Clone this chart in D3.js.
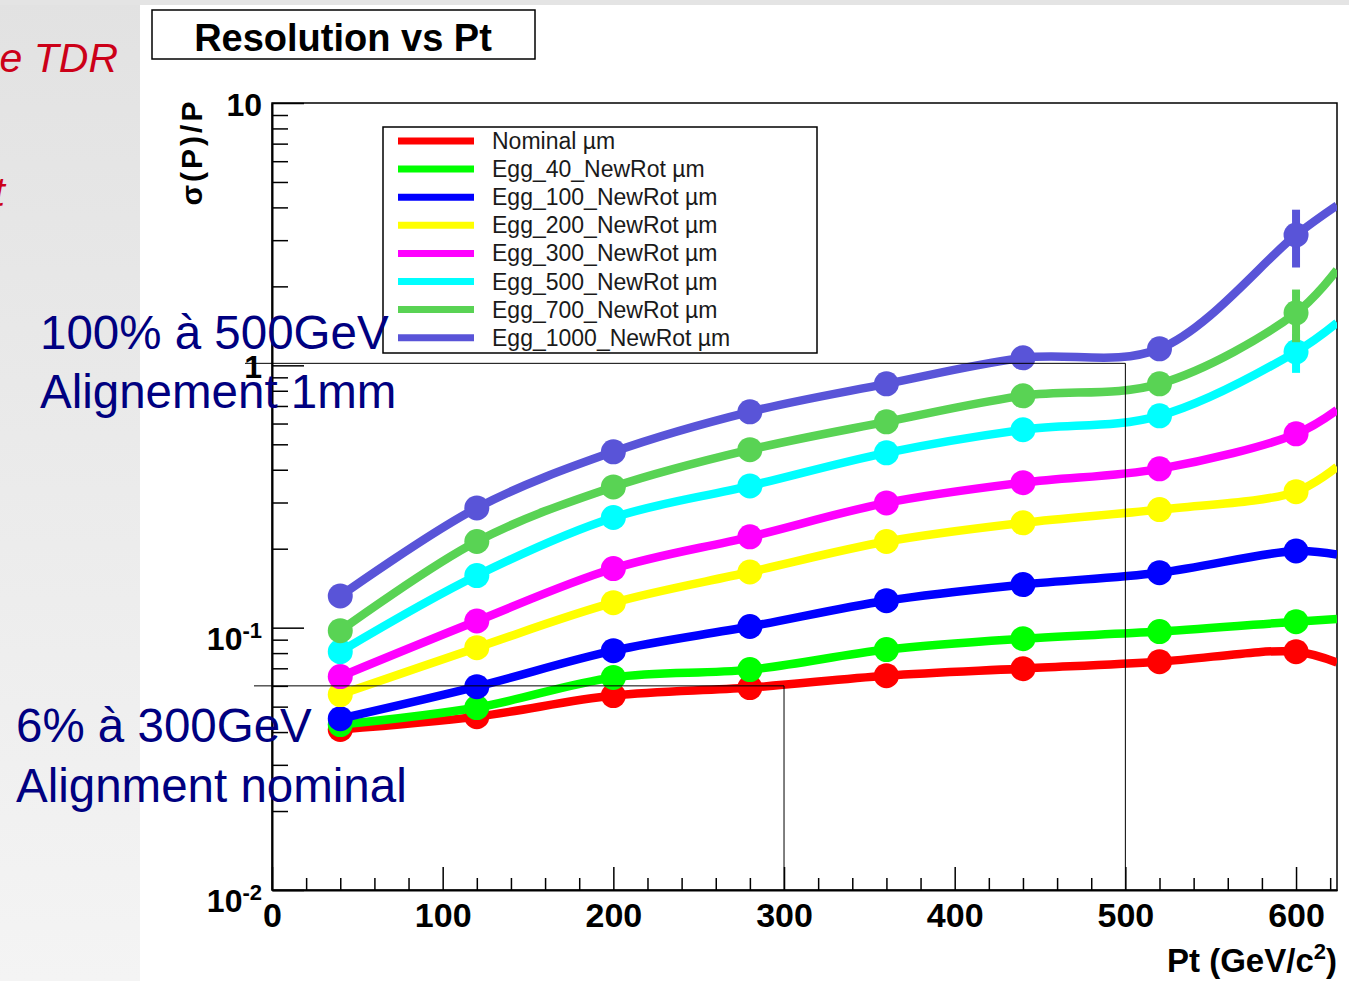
<!DOCTYPE html>
<html>
<head>
<meta charset="utf-8">
<script src="https://cdn.jsdelivr.net/npm/d3@7"></script>
<style>
  body { margin: 0; background: #fff; }
  svg { display: block; font-family: "Liberation Sans", Arial, Helvetica, sans-serif; }
  .axis path, .axis line { stroke: #000; }
  .axis text { font-weight: bold; fill: #000; }
</style>
</head>
<body>
<div id="chart"></div>
<script>
const width = 1349;
const height = 981;
const frame = {left: 272, right: 1337, top: 103, bottom: 890};

// data
const ptValues = [40, 120, 200, 280, 360, 440, 520, 600];
const ptEdge = 624;
const seriesNames = ["Nominal µm", "Egg_40_NewRot µm", "Egg_100_NewRot µm", "Egg_200_NewRot µm",
  "Egg_300_NewRot µm", "Egg_500_NewRot µm", "Egg_700_NewRot µm", "Egg_1000_NewRot µm"];
const nominal = [0.0409, 0.0458, 0.0551, 0.0591, 0.0656, 0.0698, 0.0742, 0.0810];
const egg40 = [0.0427, 0.0496, 0.0646, 0.0692, 0.0825, 0.0908, 0.0966, 0.1054];
const egg100 = [0.0450, 0.0596, 0.0817, 0.101, 0.1267, 0.146, 0.162, 0.196];
const egg200 = [0.0556, 0.0839, 0.1245, 0.163, 0.213, 0.251, 0.282, 0.330];
const egg300 = [0.0651, 0.106, 0.168, 0.222, 0.299, 0.357, 0.403, 0.548];
const egg500 = [0.0810, 0.158, 0.263, 0.347, 0.464, 0.568, 0.642, 1.126];
const egg700 = [0.0974, 0.213, 0.344, 0.477, 0.609, 0.765, 0.850, 1.585];
const egg1000 = [0.132, 0.286, 0.468, 0.665, 0.850, 1.068, 1.156, 3.14];
// where each curve leaves the frame at Pt = 624
const edgeValues = [0.0736, 0.108, 0.190, 0.410, 0.676, 1.452, 2.31, 4.07];
// error on the 600 GeV point
const lastErrors = [0, 0, 0, 0, 0, 0.19, 0.36, 0.78];
const colors = ["#ff0000", "#00ff00", "#0000ff", "#ffff00", "#ff00ff", "#00ffff", "#59d354", "#5954d8"];

const xTickValues = [0, 100, 200, 300, 400, 500, 600];
const yTickValues = [0.01, 0.1, 1, 10];
const yTickBases = ["10", "10", "1", "10"];
const yTickExps = ["-2", "-1", "", ""];

// guide lines drawn on the slide
const guidePt = [500, 300];
const guideRes = [1, 0.06];
const noteLines = [["100% à 500GeV", "Alignement 1mm"], ["6% à 300GeV", "Alignment nominal"]];

const allSeries = [nominal, egg40, egg100, egg200, egg300, egg500, egg700, egg1000];

const x = d3.scaleLinear().domain([0, ptEdge]).range([frame.left, frame.right]);
const y = d3.scaleLog().domain([0.01, 10]).range([frame.bottom, frame.top]);

const svg = d3.select("#chart").append("svg")
  .attr("width", width).attr("height", height)
  .attr("viewBox", [0, 0, width, height]);

// slide background
const grad = svg.append("defs").append("linearGradient")
  .attr("id", "side").attr("x1", 0).attr("y1", 0).attr("x2", 0).attr("y2", 1);
grad.append("stop").attr("offset", "0%").attr("stop-color", "#e2e2e2");
grad.append("stop").attr("offset", "100%").attr("stop-color", "#f4f4f4");
svg.append("rect").attr("x", 0).attr("y", 0).attr("width", 140).attr("height", height).attr("fill", "url(#side)");
svg.append("rect").attr("x", 0).attr("y", 0).attr("width", width).attr("height", 5).attr("fill", "#e4e4e4");

svg.append("text").attr("x", 118).attr("y", 72).attr("text-anchor", "end")
  .attr("font-style", "italic").attr("font-size", 41).attr("fill", "#cc0018").text("e TDR");
svg.append("text").attr("x", 5).attr("y", 206).attr("text-anchor", "end")
  .attr("font-style", "italic").attr("font-size", 41).attr("fill", "#cc0018").text("t");

svg.select("defs").append("clipPath").attr("id", "plotclip")
  .append("rect").attr("x", frame.left).attr("y", frame.top)
  .attr("width", frame.right - frame.left).attr("height", frame.bottom - frame.top);

// title box
svg.append("rect").attr("x", 152).attr("y", 10).attr("width", 383).attr("height", 49)
  .attr("fill", "#fff").attr("stroke", "#000").attr("stroke-width", 1.5);
svg.append("text").attr("x", 343).attr("y", 51).attr("text-anchor", "middle")
  .attr("font-weight", "bold").attr("font-size", 38).text("Resolution vs Pt");

// frame
svg.append("rect").attr("x", frame.left).attr("y", frame.top)
  .attr("width", frame.right - frame.left).attr("height", frame.bottom - frame.top)
  .attr("fill", "none").attr("stroke", "#000").attr("stroke-width", 1.5);

// x axis
const xMinor = d3.range(0, 621, 20).filter(d => d % 100 !== 0);
svg.append("g").attr("class", "axis")
  .attr("transform", `translate(0,${frame.bottom})`)
  .call(d3.axisBottom(x).tickValues(xMinor).tickSizeInner(-12).tickSizeOuter(0).tickFormat(""))
  .call(g => g.selectAll("line").attr("stroke-width", 1.5));
svg.append("g").attr("class", "axis")
  .attr("transform", `translate(0,${frame.bottom})`)
  .call(d3.axisBottom(x).tickValues(xTickValues).tickSizeInner(-23).tickSizeOuter(0).tickPadding(13).tickFormat(d3.format("d")))
  .call(g => g.select(".domain").attr("stroke-width", 2))
  .call(g => g.selectAll("line").attr("stroke-width", 1.5))
  .call(g => g.selectAll("text").attr("font-size", 34).attr("font-family", null));

// y axis
const yMinor = [];
[0.01, 0.1, 1].forEach(dec => d3.range(2, 10).forEach(k => yMinor.push(dec * k)));
svg.append("g").attr("class", "axis")
  .attr("transform", `translate(${frame.left},0)`)
  .call(d3.axisLeft(y).tickValues(yMinor).tickSizeInner(-16).tickSizeOuter(0).tickFormat(""))
  .call(g => g.selectAll("line").attr("stroke-width", 1.5));
svg.append("g").attr("class", "axis")
  .attr("transform", `translate(${frame.left},0)`)
  .call(d3.axisLeft(y).tickValues(yTickValues).tickSizeInner(-32).tickSizeOuter(0).tickFormat(""))
  .call(g => g.select(".domain").attr("stroke-width", 2))
  .call(g => g.selectAll("line").attr("stroke-width", 1.5));

const yLabels = svg.append("g").attr("font-weight", "bold");
yTickValues.forEach((v, i) => {
  const t = yLabels.append("text").attr("x", frame.left - 10).attr("text-anchor", "end");
  if (yTickExps[i]) {
    t.attr("y", y(v) + 22).attr("font-size", 32);
    t.append("tspan").text(yTickBases[i]);
    t.append("tspan").attr("dy", -12).attr("font-size", 22).text(yTickExps[i]);
  } else {
    t.attr("y", y(v) + 13).attr("font-size", 32).text(yTickBases[i]);
  }
});

svg.append("text")
  .attr("transform", `translate(202,152) rotate(-90)`)
  .attr("text-anchor", "middle").attr("font-weight", "bold").attr("font-size", 30)
  .attr("letter-spacing", 3).text("σ(P)/P");

const xt = svg.append("text").attr("x", frame.right).attr("y", 972).attr("text-anchor", "end")
  .attr("font-weight", "bold").attr("font-size", 33);
xt.append("tspan").text("Pt (GeV/c");
xt.append("tspan").attr("dy", -13).attr("font-size", 22).text("2");
xt.append("tspan").attr("dy", 13).text(")");

// curves
const line = d3.line()
  .x(d => x(d.pt))
  .y(d => y(d.v))
  .curve(d3.curveCatmullRom.alpha(0.5));

const plot = svg.append("g").attr("clip-path", "url(#plotclip)");

allSeries.forEach((vals, i) => {
  const pts = ptValues.map((pt, j) => ({pt, v: vals[j]}));
  const g = plot.append("g");
  g.append("path")
    .datum(pts.concat([{pt: ptEdge, v: edgeValues[i]}]))
    .attr("fill", "none")
    .attr("stroke", colors[i])
    .attr("stroke-width", 8.5)
    .attr("stroke-linejoin", "round")
    .attr("d", line);
  const last = pts[pts.length - 1];
  if (lastErrors[i] > 0) {
    g.append("line")
      .attr("x1", x(last.pt)).attr("x2", x(last.pt))
      .attr("y1", y(last.v + lastErrors[i])).attr("y2", y(last.v - lastErrors[i]))
      .attr("stroke", colors[i]).attr("stroke-width", 8);
  }
  g.selectAll("circle")
    .data(pts)
    .join("circle")
    .attr("cx", d => x(d.pt))
    .attr("cy", d => y(d.v))
    .attr("r", 12.5)
    .attr("fill", colors[i]);
});

// legend
const legend = svg.append("g");
legend.append("rect").attr("x", 383).attr("y", 127).attr("width", 434).attr("height", 226)
  .attr("fill", "#fff").attr("stroke", "#000").attr("stroke-width", 1.5);
seriesNames.forEach((name, i) => {
  const ly = 141 + i * 28.1;
  legend.append("line").attr("x1", 398).attr("x2", 474).attr("y1", ly).attr("y2", ly)
    .attr("stroke", colors[i]).attr("stroke-width", 7);
  legend.append("text").attr("x", 492).attr("y", ly + 8).attr("font-size", 23)
    .attr("fill", "#1a1a1a").text(name);
});

// guide lines
const guides = svg.append("g").attr("stroke", "#000").attr("stroke-width", 1).attr("fill", "none");
guidePt.forEach((pt, i) => {
  guides.append("path")
    .attr("d", `M${x(0) - (i === 0 ? 27 : 18)},${y(guideRes[i]) - (i === 0 ? 2 : 0)}H${x(pt)}V${frame.bottom}`);
});

// slide notes
const notes = svg.append("g").attr("fill", "#000080").attr("font-size", 47.5);
notes.append("text").attr("x", 40).attr("y", 349).text(noteLines[0][0]);
notes.append("text").attr("x", 40).attr("y", 408).text(noteLines[0][1]);
notes.append("text").attr("x", 16).attr("y", 742).text(noteLines[1][0]);
notes.append("text").attr("x", 16).attr("y", 802).text(noteLines[1][1]);
</script>
</body>
</html>
